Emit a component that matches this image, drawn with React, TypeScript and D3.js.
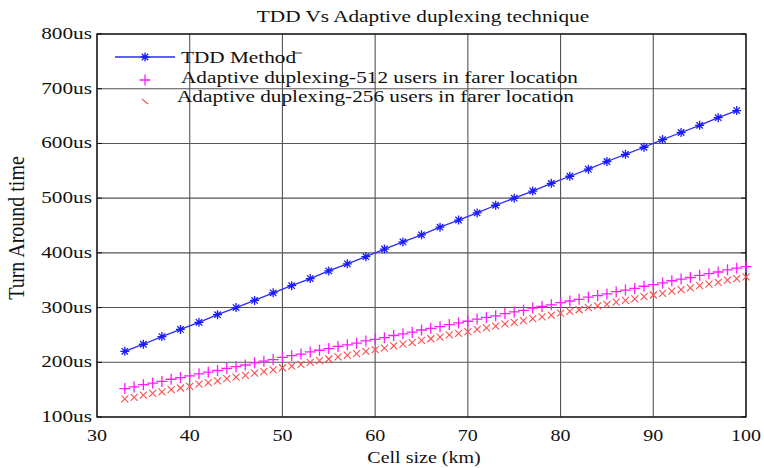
import * as d3 from "d3";
import React from "react";

const width = 764;
const height = 468;

const xTicks = [30, 40, 50, 60, 70, 80, 90, 100];
const yTicks = [100, 200, 300, 400, 500, 600, 700, 800];
const yTickLabels = ["100us", "200us", "300us", "400us", "500us", "600us", "700us", "800us"];

const seriesNames = [
  "TDD Method",
  "Adaptive duplexing-512 users in farer location",
  "Adaptive duplexing-256 users in farer location",
];

// TDD method, every 2 km
const tddCell = [33, 35, 37, 39, 41, 43, 45, 47, 49, 51, 53, 55, 57, 59, 61, 63, 65, 67, 69, 71, 73, 75, 77, 79, 81, 83, 85, 87, 89, 91, 93, 95, 97, 99];
const tddTime = [220, 233, 247, 260, 273, 287, 300, 313, 327, 340, 353, 367, 380, 393, 407, 420, 433, 447, 460, 473, 487, 500, 513, 527, 540, 553, 567, 580, 593, 607, 620, 633, 647, 660];

// adaptive series, every 1 km
const adaptiveCell = [33, 34, 35, 36, 37, 38, 39, 40, 41, 42, 43, 44, 45, 46, 47, 48, 49, 50, 51, 52, 53, 54, 55, 56, 57, 58, 59, 60, 61, 62, 63, 64, 65, 66, 67, 68, 69, 70, 71, 72, 73, 74, 75, 76, 77, 78, 79, 80, 81, 82, 83, 84, 85, 86, 87, 88, 89, 90, 91, 92, 93, 94, 95, 96, 97, 98, 99, 100];
const adaptive512 = [152, 155, 159, 162, 165, 169, 172, 175, 179, 182, 185, 189, 192, 195, 199, 202, 205, 209, 212, 215, 219, 222, 225, 229, 232, 235, 239, 242, 245, 249, 252, 255, 259, 262, 265, 269, 272, 275, 279, 282, 285, 289, 292, 295, 299, 302, 305, 309, 312, 315, 319, 322, 325, 329, 332, 335, 339, 342, 345, 349, 352, 355, 359, 362, 365, 369, 372, 375];
const adaptive256 = [133, 136, 140, 143, 146, 150, 153, 156, 160, 163, 166, 170, 173, 176, 180, 183, 186, 190, 193, 196, 200, 203, 206, 210, 213, 216, 220, 223, 226, 230, 233, 236, 240, 243, 246, 250, 253, 256, 260, 263, 266, 270, 273, 276, 280, 283, 286, 290, 293, 296, 300, 303, 306, 310, 313, 316, 320, 323, 326, 330, 333, 336, 340, 343, 346, 350, 353, 356];

const margin = { top: 34, right: 18, bottom: 51, left: 97 };
const innerWidth = width - margin.left - margin.right;
const innerHeight = height - margin.top - margin.bottom;

const font = "'Liberation Serif', 'Times New Roman', serif";
// the reference picture is stretched sideways, so the text is too
const sx = 1.25;

const starPath = "M-4.5,0H4.5M0,-4.5V4.5M-3.2,-3.2L3.2,3.2M-3.2,3.2L3.2,-3.2";
const plusPath = "M-5.5,0H5.5M0,-5.5V5.5";
const crossPath = "M-3.5,-3.5L3.5,3.5M-3.5,3.5L3.5,-3.5";

function Label({ x, y, anchor = "start", size = 17, children }: any) {
  return (
    <text
      transform={`translate(${x},${y}) scale(${sx},1)`}
      textAnchor={anchor}
      fontSize={size}
      fill="#111"
    >
      {children}
    </text>
  );
}

export default function App() {
  const x = d3.scaleLinear().domain([30, 100]).range([0, innerWidth]);
  const y = d3.scaleLinear().domain([100, 800]).range([innerHeight, 0]);

  const tddPoints = tddCell.map((c, i) => [c, tddTime[i]] as [number, number]);
  const line = d3
    .line<[number, number]>()
    .x((d) => x(d[0]))
    .y((d) => y(d[1]));

  return (
    <svg
      width={width}
      height={height}
      style={{ position: "absolute", left: 0, top: 0, background: "#fff" }}
      fontFamily={font}
    >
      <Label x={423} y={22} anchor="middle" size={17}>
        TDD Vs Adaptive duplexing technique
      </Label>
      <g transform={`translate(${margin.left},${margin.top})`}>
        {xTicks.map((t) => (
          <g key={"x" + t}>
            <line x1={x(t)} x2={x(t)} y1={0} y2={innerHeight} stroke="#555" strokeWidth={1.1} />
            <Label x={x(t)} y={innerHeight + 24} anchor="middle" size={16}>
              {t}
            </Label>
          </g>
        ))}
        {yTicks.map((t, i) => (
          <g key={"y" + t}>
            <line x1={0} x2={innerWidth} y1={y(t)} y2={y(t)} stroke="#555" strokeWidth={1.1} />
            <line x1={0} x2={5} y1={y(t)} y2={y(t)} stroke="#111" />
            <line x1={innerWidth - 5} x2={innerWidth} y1={y(t)} y2={y(t)} stroke="#111" />
            <Label x={-5} y={y(t) + 5} anchor="end" size={17}>
              {yTickLabels[i]}
            </Label>
          </g>
        ))}
        <rect x={0} y={0} width={innerWidth} height={innerHeight} fill="none" stroke="#111" strokeWidth={1.3} />

        <path d={line(tddPoints) || ""} fill="none" stroke="#2b2bff" strokeWidth={1.3} />
        {tddPoints.map((d, i) => (
          <path key={"t" + i} d={starPath} transform={`translate(${x(d[0])},${y(d[1])})`} stroke="#1a1aff" strokeWidth={1.3} />
        ))}
        {adaptiveCell.map((c, i) => (
          <path key={"m" + i} d={plusPath} transform={`translate(${x(c)},${y(adaptive512[i])})`} stroke="#ff1aff" strokeWidth={1.3} />
        ))}
        {adaptiveCell.map((c, i) => (
          <path key={"r" + i} d={crossPath} transform={`translate(${x(c)},${y(adaptive256[i])})`} stroke="#ff4d4d" strokeWidth={1.1} />
        ))}

        {/* legend */}
        <g transform="translate(18,23)">
          <line x1={0} x2={60} y1={0} y2={0} stroke="#2b2bff" strokeWidth={1.3} />
          <path d={starPath} transform="translate(30,0)" stroke="#1a1aff" strokeWidth={1.3} />
          <Label x={66} y={6}>{seriesNames[0]}</Label>
          <line x1={179} x2={187} y1={-4} y2={-4} stroke="#333" />
          <path d={plusPath} transform="translate(30,23)" stroke="#ff1aff" strokeWidth={1.3} />
          <Label x={66} y={26}>{seriesNames[1]}</Label>
          <line x1={27} x2={33} y1={42} y2={47} stroke="#ff4d4d" strokeWidth={1.1} />
          <Label x={62} y={45}>{seriesNames[2]}</Label>
        </g>
      </g>
      <Label x={424} y={463} anchor="middle" size={16}>
        Cell size (km)
      </Label>
      <text
        transform="translate(24,228) rotate(-90) scale(1,1.2)"
        textAnchor="middle"
        fontSize={20}
        fill="#111"
      >
        Turn Around time
      </text>
    </svg>
  );
}
